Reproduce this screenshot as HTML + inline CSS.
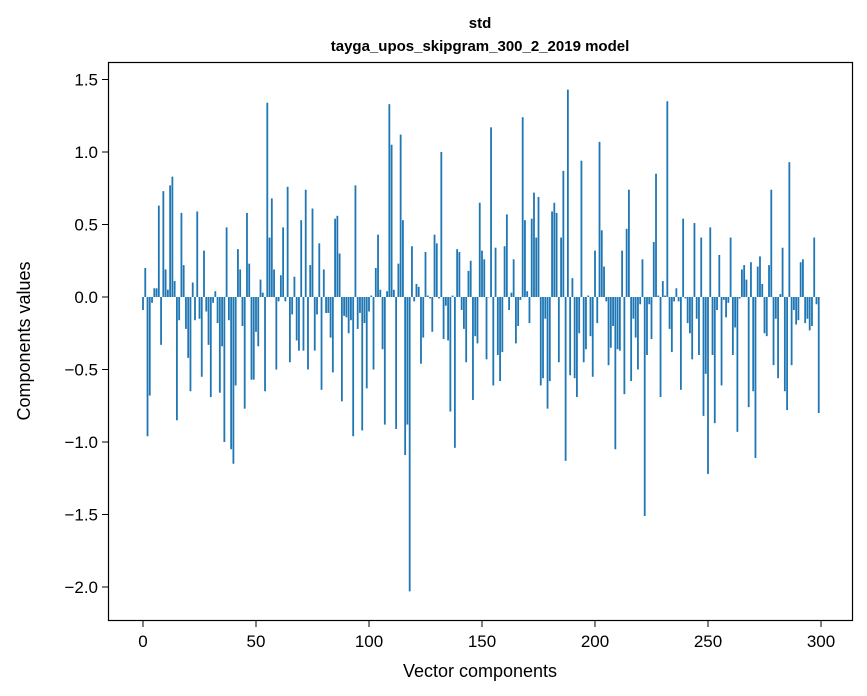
<!DOCTYPE html>
<html><head><meta charset="utf-8"><style>
html,body{margin:0;padding:0;background:#fff;}
svg{display:block;font-family:"Liberation Sans","DejaVu Sans",sans-serif;}
</style></head><body>
<svg id="chart" width="867" height="696" viewBox="0 0 867 696">
<text x="480" y="28" text-anchor="middle" font-size="15" font-weight="bold">std</text>
<text x="480" y="51" text-anchor="middle" font-size="15" font-weight="bold">tayga_upos_skipgram_300_2_2019 model</text>
<g id="bars"></g>
<rect x="108.5" y="62.5" width="744" height="558" fill="none" stroke="#000" stroke-width="1.2"/>
<g id="xticks"></g>
<g id="yticks"></g>
<text x="480" y="677" text-anchor="middle" font-size="18">Vector components</text>
<text transform="translate(30,341) rotate(-90)" text-anchor="middle" font-size="18">Components values</text>
</svg>
<script>
const values = [
-0.09,0.2,-0.96,-0.68,-0.04,0.06,0.06,0.63,-0.33,0.73,0.19,0.05,0.77,0.83,0.11,-0.85,-0.16,0.58,0.22,-0.22,-0.42,-0.65,0.1,-0.16,0.59,-0.15,-0.55,0.32,-0.1,-0.33,-0.69,-0.04,0.04,-0.18,-0.66,-0.34,-1.0,0.48,-0.16,-1.05,-1.15,-0.61,0.33,0.19,-0.2,-0.77,0.58,0.23,-0.57,-0.57,
-0.24,-0.34,0.12,0.03,-0.65,1.34,0.41,0.68,0.19,-0.5,-0.03,0.15,0.48,-0.03,0.76,-0.45,-0.12,0.14,-0.3,-0.37,0.53,-0.37,0.74,-0.5,0.22,0.61,-0.37,-0.12,0.37,-0.64,0.19,-0.11,-0.11,-0.28,-0.52,0.54,0.56,0.3,-0.72,-0.13,-0.14,-0.25,-0.16,-0.96,0.77,-0.22,-0.11,-0.92,-0.18,-0.63,
-0.1,0.01,-0.5,0.2,0.43,0.05,-0.36,-0.88,0.04,1.33,1.05,0.05,-0.91,0.23,1.12,0.53,-1.09,-0.88,-2.03,0.35,-0.03,0.09,0.07,-0.46,-0.28,0.31,0.01,-0.01,-0.24,0.43,0.37,-0.01,1.0,-0.29,-0.06,-0.3,-0.79,0.01,-1.04,0.33,0.31,-0.09,-0.22,-0.45,0.18,0.25,-0.71,-0.27,-0.32,0.65,
0.32,0.26,-0.43,0,1.17,-0.61,0.34,-0.4,-0.58,-0.38,0.35,0.57,-0.09,0.03,0.26,-0.32,-0.2,-0.02,1.24,0.53,0.04,-0.18,0.54,0.72,0.41,0.69,-0.61,-0.56,-0.15,-0.77,-0.58,0.59,0.65,0.58,-0.45,0.41,0.87,-1.13,1.43,-0.54,0.13,-0.56,-0.69,-0.25,0.94,-0.45,-0.36,0.01,-0.27,-0.55,
0.32,-0.18,1.07,0.46,0.21,-0.03,-0.47,-0.35,-0.2,-1.05,-0.36,-0.37,0.32,-0.67,0.47,0.74,-0.58,-0.15,-0.28,-0.5,-0.05,0.26,-1.51,-0.4,-0.05,-0.29,0.38,0.85,0.01,-0.69,0.11,0.01,1.35,-0.22,-0.38,-0.03,0.06,-0.03,-0.64,0.54,-0.01,-0.18,-0.25,-0.43,0.51,-0.15,-0.4,0.41,-0.82,-0.53,
-1.22,0.48,-0.4,-0.87,-0.09,0.29,-0.61,-0.02,-0.14,-0.04,0.41,-0.4,-0.21,-0.93,-0.01,0.19,0.22,0.12,-0.76,0.24,-0.65,-1.11,0.21,0.28,0.09,-0.25,-0.27,0.22,0.74,-0.47,-0.15,-0.56,0.02,0.34,-0.65,-0.78,0.93,-0.47,-0.09,-0.19,-0.16,0.24,0.26,-0.18,-0.15,-0.23,-0.2,0.41,-0.05,-0.8
];
const xTicks = [0,50,100,150,200,250,300];
const yTicks = [1.5,1.0,0.5,0.0,-0.5,-1.0,-1.5,-2.0];
const yTickLabels = ["1.5","1.0","0.5","0.0","\u22120.5","\u22121.0","\u22121.5","\u22122.0"];

const NS = "http://www.w3.org/2000/svg";
function xs(v){ return 143 + 2.26*v; }
function ys(v){ return 297 - 145*v; }
const bars = document.getElementById('bars');
values.forEach((v,i)=>{
  const r = document.createElementNS(NS,'rect');
  const x0 = xs(i-0.4), x1 = xs(i+0.4);
  const y0 = Math.min(ys(v), ys(0)), y1 = Math.max(ys(v), ys(0));
  r.setAttribute('x', x0); r.setAttribute('width', x1-x0);
  r.setAttribute('y', y0); r.setAttribute('height', Math.max(y1-y0,0.3));
  r.setAttribute('fill', '#1f77b4');
  
  
  bars.appendChild(r);
});
const xg = document.getElementById('xticks');
xTicks.forEach(t=>{
  const l = document.createElementNS(NS,'line');
  l.setAttribute('x1', xs(t)); l.setAttribute('x2', xs(t));
  l.setAttribute('y1', 621); l.setAttribute('y2', 627);
  l.setAttribute('stroke', '#000');
  
  
  xg.appendChild(l);
  const tx = document.createElementNS(NS,'text');
  tx.setAttribute('x', xs(t)); tx.setAttribute('y', 647);
  tx.setAttribute('text-anchor', 'middle'); tx.setAttribute('font-size', '17');
  tx.textContent = String(t);
  
  
  xg.appendChild(tx);
});
const yg = document.getElementById('yticks');
yTicks.forEach((t,k)=>{
  const l = document.createElementNS(NS,'line');
  l.setAttribute('x1', 102); l.setAttribute('x2', 108);
  l.setAttribute('y1', ys(t)); l.setAttribute('y2', ys(t));
  l.setAttribute('stroke', '#000');
  
  
  yg.appendChild(l);
  const tx = document.createElementNS(NS,'text');
  tx.setAttribute('x', 98); tx.setAttribute('y', ys(t)+6);
  tx.setAttribute('text-anchor', 'end'); tx.setAttribute('font-size', '17');
  tx.textContent = yTickLabels[k];
  
  
  yg.appendChild(tx);
});
</script>
</body></html>
